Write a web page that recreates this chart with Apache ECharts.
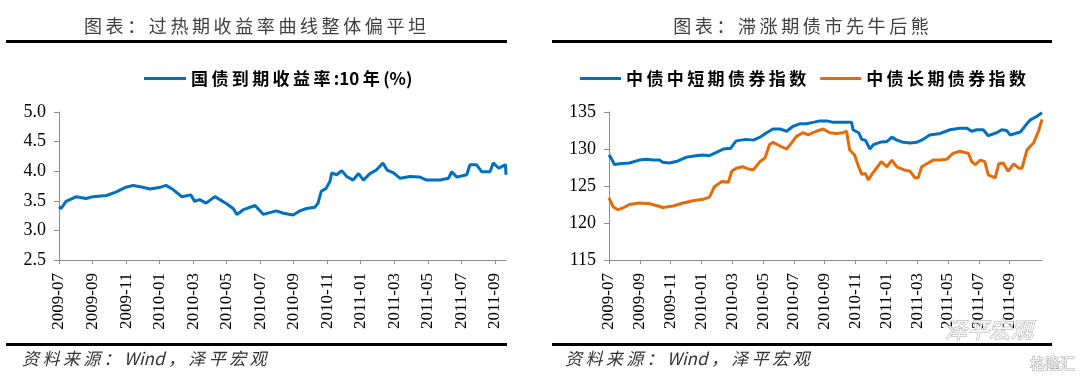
<!DOCTYPE html>
<html>
<head>
<meta charset="utf-8">
<title>过热期收益率曲线 / 滞涨期债市</title>
<script src="https://cdn.jsdelivr.net/npm/echarts@6/dist/echarts.min.js"></script>
<style>
  html, body { margin: 0; padding: 0; background: #fff; }
  #main { width: 1080px; height: 377px; }
</style>
</head>
<body>
<div id="main"></div>
<script>
// left: 国债到期收益率 10年 (%)
var yieldDates = ['2009-07-01','2009-07-05','2009-07-14','2009-08-02','2009-08-20','2009-09-02','2009-09-26','2009-10-14',
  '2009-11-01','2009-11-14','2009-12-01','2009-12-14','2010-01-03','2010-01-13','2010-01-26','2010-02-10','2010-02-25',
  '2010-03-04','2010-03-13','2010-03-25','2010-04-10','2010-05-01','2010-05-13','2010-05-20','2010-06-01','2010-06-22',
  '2010-07-07','2010-07-19','2010-07-31','2010-08-13','2010-08-31','2010-09-12','2010-09-24','2010-10-09','2010-10-15',
  '2010-10-21','2010-10-30','2010-11-06','2010-11-09','2010-11-18','2010-11-27','2010-12-06','2010-12-18','2010-12-28',
  '2011-01-06','2011-01-18','2011-01-30','2011-02-10','2011-02-17','2011-02-28','2011-03-12','2011-03-30','2011-04-17',
  '2011-04-29','2011-05-24','2011-06-08','2011-06-14','2011-06-23','2011-07-11','2011-07-17','2011-07-29','2011-08-08',
  '2011-08-23','2011-08-29','2011-09-08','2011-09-20','2011-09-21'];
var yieldValues = [3.40,3.37,3.49,3.57,3.54,3.57,3.59,3.65,
  3.73,3.76,3.73,3.70,3.73,3.76,3.69,3.57,3.60,
  3.49,3.52,3.46,3.57,3.45,3.37,3.27,3.35,3.42,
  3.27,3.30,3.33,3.29,3.26,3.33,3.37,3.39,3.46,
  3.66,3.71,3.83,3.97,3.94,4.01,3.91,3.85,3.96,
  3.85,3.96,4.02,4.14,4.02,3.97,3.88,3.91,3.90,
  3.85,3.85,3.88,3.99,3.90,3.94,4.11,4.11,3.99,
  3.99,4.14,4.05,4.11,3.94];

// right: 中债中短期债券指数
var shortDates = ['2009-07-01','2009-07-05','2009-07-12','2009-07-22','2009-08-11','2009-08-31','2009-09-14','2009-09-27',
  '2009-10-10','2009-10-16','2009-10-29','2009-11-12','2009-12-02','2009-12-21','2010-01-04','2010-01-17','2010-01-30',
  '2010-02-13','2010-02-26','2010-03-03','2010-03-09','2010-03-29','2010-04-12','2010-04-25','2010-05-08','2010-05-21',
  '2010-06-04','2010-06-17','2010-06-30','2010-07-13','2010-07-26','2010-08-09','2010-08-22','2010-09-05','2010-09-18',
  '2010-09-30','2010-10-14','2010-10-24','2010-10-27','2010-11-07','2010-11-13','2010-11-20','2010-11-26','2010-11-29',
  '2010-12-06','2010-12-19','2011-01-02','2011-01-12','2011-01-22','2011-02-04','2011-02-16','2011-02-28','2011-03-13',
  '2011-03-26','2011-04-16','2011-05-05','2011-05-25','2011-06-08','2011-06-17','2011-06-27','2011-07-10','2011-07-20',
  '2011-08-06','2011-08-16','2011-08-26','2011-09-02','2011-09-22','2011-10-01','2011-10-11','2011-10-24','2011-11-04'];
var shortValues = [129.2,128.8,127.9,128.0,128.1,128.5,128.6,128.5,
  128.5,128.2,128.1,128.3,128.9,129.1,129.2,129.1,129.5,
  130.0,130.1,130.6,131.1,131.3,131.2,131.6,132.2,132.7,
  132.7,132.4,133.1,133.4,133.4,133.6,133.8,133.8,133.6,
  133.6,133.6,133.6,132.6,132.2,131.3,131.2,130.4,130.0,
  130.6,130.9,131.0,131.6,131.2,130.9,130.8,130.9,131.3,
  131.9,132.1,132.6,132.8,132.8,132.4,132.6,132.6,131.8,
  132.2,132.6,132.5,131.9,132.3,133.1,133.9,134.4,134.9];

// right: 中债长期债券指数
var longDates = ['2009-07-01','2009-07-09','2009-07-19','2009-07-28','2009-08-11','2009-08-31','2009-09-20','2009-10-07',
  '2009-10-16','2009-11-06','2009-11-25','2009-12-15','2010-01-04','2010-01-17','2010-01-27','2010-02-10','2010-02-22',
  '2010-02-28','2010-03-09','2010-03-22','2010-04-02','2010-04-12','2010-04-25','2010-05-05','2010-05-14','2010-05-21',
  '2010-06-04','2010-06-17','2010-06-26','2010-07-06','2010-07-19','2010-07-30','2010-08-15','2010-08-29','2010-09-11',
  '2010-09-24','2010-10-07','2010-10-14','2010-10-20','2010-10-30','2010-11-07','2010-11-13','2010-11-20','2010-11-26',
  '2010-12-02','2010-12-12','2010-12-22','2011-01-02','2011-01-12','2011-01-22','2011-02-04','2011-02-16','2011-02-25',
  '2011-03-03','2011-03-10','2011-03-23','2011-04-02','2011-04-16','2011-04-28','2011-05-11','2011-05-25','2011-06-11',
  '2011-06-17','2011-06-24','2011-07-04','2011-07-13','2011-07-20','2011-08-03','2011-08-10','2011-08-19','2011-08-29',
  '2011-09-09','2011-09-19','2011-09-25','2011-10-05','2011-10-18','2011-10-28','2011-11-04'];
var longValues = [123.4,122.2,121.8,122.0,122.5,122.7,122.6,122.3,
  122.1,122.3,122.7,123.0,123.2,123.5,124.9,125.6,125.5,
  127.0,127.4,127.6,127.3,127.2,128.3,128.8,130.6,130.9,
  130.4,130.0,130.8,131.7,132.2,131.9,132.4,132.7,132.2,
  132.1,132.2,132.4,129.9,129.2,127.6,126.6,126.7,125.8,
  126.5,127.4,128.3,127.6,128.5,127.6,127.2,127.0,126.1,
  126.1,127.6,128.1,128.5,128.5,128.6,129.4,129.7,129.4,
  128.3,127.9,128.5,128.3,126.5,126.1,128.0,128.1,127.0,
  128.0,127.4,127.4,129.9,130.8,132.4,134.0];

var monthTicks = ['2009-07','2009-09','2009-11','2010-01','2010-03','2010-05','2010-07',
  '2010-09','2010-11','2011-01','2011-03','2011-05','2011-07','2011-09'];

var leftTitle = '图表：过热期收益率曲线整体偏平坦';
var rightTitle = '图表：滞涨期债市先牛后熊';
var sourceText = '资料来源：Wind，泽平宏观';

// months since 2009-07 (fractional)
function monthIndex(s) {
  var p = s.split('-');
  var y = +p[0], m = +p[1], d = p.length > 2 ? +p[2] : 1;
  var days = new Date(y, m, 0).getDate();
  return (y - 2009) * 12 + (m - 7) + (d - 1) / days;
}

function pairs(dates, vals) {
  return dates.map(function (d, i) { return [monthIndex(d), vals[i]]; });
}

// thin spaces around CJK characters only (mimics the loose CJK tracking)
function spaced(str) {
  var out = '';
  for (var i = 0; i < str.length; i++) {
    out += str[i];
    var next = str[i + 1];
    if (next && (str.charCodeAt(i) > 255 || next.charCodeAt(0) > 255)) out += '\u2009';
  }
  return out;
}

var tickValues = monthTicks.map(monthIndex);
var tickLabel = {};
monthTicks.forEach(function (t) { tickLabel[monthIndex(t)] = t; });

var serif = "'Times New Roman', 'Liberation Serif', serif";
var cjk = "'Noto Sans CJK SC', sans-serif";
var axisGrey = '#8c8c8c';

function xAxisFor(idx, maxVal) {
  return {
    type: 'value', gridIndex: idx, min: 0, max: maxVal,
    axisLine: { show: true, lineStyle: { color: axisGrey, width: 1 } },
    axisTick: { show: true, length: 4, customValues: tickValues, lineStyle: { color: axisGrey } },
    splitLine: { show: false },
    axisLabel: {
      customValues: tickValues, rotate: 90, margin: 13,
      fontFamily: serif, fontSize: 17, color: '#000',
      formatter: function (v) { return tickLabel[v] || ''; }
    }
  };
}

function yAxisFor(idx, min, max, step, digits) {
  return {
    type: 'value', gridIndex: idx, min: min, max: max, interval: step,
    axisLine: { show: true, lineStyle: { color: axisGrey, width: 1 } },
    axisTick: { show: true, length: 5, lineStyle: { color: axisGrey } },
    splitLine: { show: false },
    axisLabel: {
      margin: 13, fontFamily: serif, fontSize: 18, color: '#000',
      formatter: function (v) { return v.toFixed(digits); }
    }
  };
}

var chart = echarts.init(document.getElementById('main'), null, { renderer: 'canvas' });

var legendText = { fontFamily: cjk, fontSize: 17, fontWeight: 'bold', color: '#000' };

var option = {
  animation: false,
  backgroundColor: '#fff',
  grid: [
    { left: 59, top: 112, width: 447, height: 148 },
    { left: 609, top: 112, width: 433, height: 148 }
  ],
  legend: [
    {
      data: ['国债到期收益率:10年(%)'], left: 139, top: 65,
      icon: 'rect', itemWidth: 42, itemHeight: 3, itemGap: 14,
      textStyle: legendText, formatter: spaced
    },
    {
      data: ['中债中短期债券指数', '中债长期债券指数'], left: 575, top: 65,
      icon: 'rect', itemWidth: 41, itemHeight: 3, itemGap: 14,
      textStyle: legendText, formatter: spaced
    }
  ],
  xAxis: [
    xAxisFor(0, monthIndex(yieldDates[yieldDates.length - 1])),
    xAxisFor(1, monthIndex(shortDates[shortDates.length - 1]))
  ],
  yAxis: [
    yAxisFor(0, 2.5, 5.0, 0.5, 1),
    yAxisFor(1, 115, 135, 5, 0)
  ],
  series: [
    {
      name: '国债到期收益率:10年(%)', type: 'line', xAxisIndex: 0, yAxisIndex: 0,
      data: pairs(yieldDates, yieldValues), showSymbol: false,
      lineStyle: { color: '#0070C0', width: 3 }, itemStyle: { color: '#0070C0' }
    },
    {
      name: '中债中短期债券指数', type: 'line', xAxisIndex: 1, yAxisIndex: 1,
      data: pairs(shortDates, shortValues), showSymbol: false,
      lineStyle: { color: '#0070C0', width: 3 }, itemStyle: { color: '#0070C0' }
    },
    {
      name: '中债长期债券指数', type: 'line', xAxisIndex: 1, yAxisIndex: 1,
      data: pairs(longDates, longValues), showSymbol: false,
      lineStyle: { color: '#E46C0A', width: 3 }, itemStyle: { color: '#E46C0A' }
    }
  ],
  graphic: [
    // titles
    { type: 'text', x: 255, y: 26, style: { text: spaced(leftTitle), fontFamily: cjk, fontSize: 18, fill: '#404040', align: 'center', verticalAlign: 'middle' } },
    { type: 'text', x: 801, y: 26, style: { text: spaced(rightTitle), fontFamily: cjk, fontSize: 18, fill: '#404040', align: 'center', verticalAlign: 'middle' } },
    // rules
    { type: 'rect', shape: { x: 6, y: 40, width: 501, height: 3 }, style: { fill: '#000' } },
    { type: 'rect', shape: { x: 552, y: 40, width: 500, height: 3 }, style: { fill: '#000' } },
    { type: 'rect', shape: { x: 6, y: 343, width: 501, height: 3 }, style: { fill: '#000' } },
    { type: 'rect', shape: { x: 552, y: 343, width: 500, height: 3 }, style: { fill: '#000' } },
    // source notes
    { type: 'text', x: 22, y: 359, style: { text: spaced(sourceText), fontFamily: cjk, fontSize: 17, fontStyle: 'italic', fill: '#333', verticalAlign: 'middle' } },
    { type: 'text', x: 565, y: 359, style: { text: spaced(sourceText), fontFamily: cjk, fontSize: 17, fontStyle: 'italic', fill: '#333', verticalAlign: 'middle' } },
    // watermarks
    { type: 'text', x: 945, y: 330, z: 100, style: { text: '泽平宏观', fontFamily: cjk, fontSize: 22, fontStyle: 'italic', fill: 'rgba(255,255,255,0.9)', stroke: '#aaa', lineWidth: 1, verticalAlign: 'middle' } },
    { type: 'text', x: 1030, y: 363, z: 100, style: { text: '格隆汇', fontFamily: cjk, fontSize: 15, fill: 'rgba(255,255,255,0.9)', stroke: '#aaa', lineWidth: 1, verticalAlign: 'middle' } }
  ]
};

chart.setOption(option);
</script>
</body>
</html>
